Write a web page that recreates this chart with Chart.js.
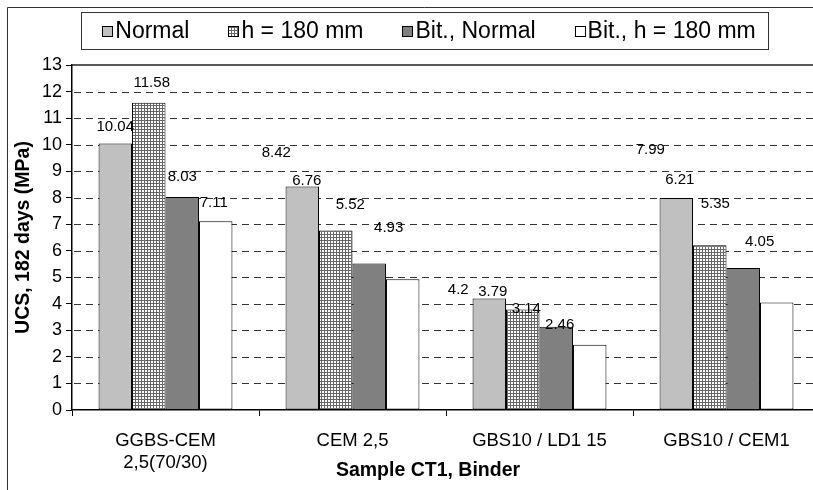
<!DOCTYPE html>
<html>
<head>
<meta charset="utf-8">
<script src="https://cdn.jsdelivr.net/npm/chart.js@4/dist/chart.umd.min.js"></script>
<style>
  html, body { margin: 0; padding: 0; background: #fff; overflow: hidden; }
  #wrap { width: 813px; height: 490px; overflow: hidden; position: relative; }
  canvas { display: block; }
</style>
</head>
<body>
<div id="wrap"><canvas id="c" width="840" height="490"></canvas></div>
<script>
// UCS after 182 days for sample CT1, by binder
const categories = [['GGBS-CEM', '2,5(70/30)'], 'CEM 2,5', 'GBS10 / LD1 15', 'GBS10 / CEM1'];
const seriesNames = ['Normal', 'h = 180 mm', 'Bit., Normal', 'Bit., h = 180 mm'];
const normal    = [10.04, 8.42, 4.2, 7.99];
const h180      = [11.58, 6.76, 3.79, 6.21];
const bitNormal = [8.03, 5.52, 3.14, 5.35];
const bitH180   = [7.11, 4.93, 2.46, 4.05];
const yTickMin = 0, yTickMax = 13, yTickStep = 1;
const xTitle = 'Sample CT1, Binder';
const yTitle = 'UCS, 182 days (MPa)';

// nudges (px) for the value labels, so they clear the neighbouring bars
const labelNudge = [
  [[0, -17], [3, -20], [0, -20], [-2, -18]],
  [[-26, -34], [-29, -50], [-19, -59], [-14, -51]],
  [[-31, -9], [-30, -18], [-30, -18], [-30, -20]],
  [[-26, -48], [-30, -65], [-28, -64], [-17, -61]]
];

const FONT = '"Liberation Sans", Arial, sans-serif';

function gridPattern() {
  const p = document.createElement('canvas');
  p.width = 3; p.height = 3;
  const g = p.getContext('2d');
  g.fillStyle = '#ffffff';
  g.fillRect(0, 0, 3, 3);
  g.fillStyle = '#666666';
  g.fillRect(0, 0, 3, 1);
  g.fillRect(0, 0, 1, 3);
  return g.createPattern(p, 'repeat');
}
const hatch = gridPattern();
const fills = ['#c0c0c0', hatch, '#808080', '#ffffff'];

const framePlugin = {
  id: 'frame',
  beforeDraw(chart) {
    const ctx = chart.ctx;
    ctx.save();
    ctx.fillStyle = '#fff';
    ctx.fillRect(0, 0, chart.width, chart.height);
    ctx.strokeStyle = '#333';
    ctx.lineWidth = 1;
    ctx.beginPath();
    ctx.moveTo(7.5, chart.height + 2);
    ctx.lineTo(7.5, 7.5);
    ctx.lineTo(chart.width + 2, 7.5);
    ctx.stroke();
    ctx.restore();
  },
  beforeDatasetsDraw(chart) {
    // dashed horizontal grid lines
    const ctx = chart.ctx;
    const a = chart.chartArea;
    const y = chart.scales.y;
    ctx.save();
    ctx.strokeStyle = '#333';
    ctx.lineWidth = 1;
    ctx.setLineDash([7, 5]);
    y.ticks.forEach(t => {
      if (t.value === yTickMin || t.value === yTickMax) return;
      const py = Math.round(y.getPixelForValue(t.value)) + 0.5;
      ctx.beginPath();
      ctx.moveTo(a.left + 2, py);
      ctx.lineTo(a.right, py);
      ctx.stroke();
    });
    ctx.restore();
  },
  afterDraw(chart) {
    const ctx = chart.ctx;
    const a = chart.chartArea;
    ctx.save();
    // plot area top edge
    ctx.strokeStyle = '#222';
    ctx.lineWidth = 1.5;
    ctx.beginPath();
    ctx.moveTo(a.left, a.top);
    ctx.lineTo(a.right, a.top);
    ctx.stroke();
    // x axis title
    ctx.fillStyle = '#000';
    ctx.font = 'bold 19.5px ' + FONT;
    ctx.textAlign = 'center';
    ctx.textBaseline = 'middle';
    ctx.fillText(xTitle, 428, 471);
    ctx.restore();
  }
};

const legendPlugin = {
  id: 'boxLegend',
  afterDraw(chart) {
    const ctx = chart.ctx;
    const box = { l: 81.5, t: 12.5, r: 768.5, b: 49.5 };
    ctx.save();
    ctx.fillStyle = '#fff';
    ctx.strokeStyle = '#333';
    ctx.lineWidth = 1;
    ctx.fillRect(box.l, box.t, box.r - box.l, box.b - box.t);
    ctx.strokeRect(box.l, box.t, box.r - box.l, box.b - box.t);
    ctx.font = '23px ' + FONT;
    ctx.textBaseline = 'middle';
    ctx.textAlign = 'left';
    const sw = 10, gapText = 3, gapItem = 39;
    const ds = chart.data.datasets;
    const widths = ds.map(d => ctx.measureText(d.label).width);
    const total = widths.reduce((s, w) => s + sw + gapText + w, 0) + gapItem * (ds.length - 1);
    let x = (box.l + box.r) / 2 - total / 2 + 4;
    const cy = (box.t + box.b) / 2;
    ds.forEach((d, i) => {
      ctx.fillStyle = d.backgroundColor;
      ctx.fillRect(x, cy - sw / 2, sw, sw);
      ctx.strokeStyle = '#000';
      ctx.strokeRect(Math.round(x) + 0.5, Math.round(cy - sw / 2) + 0.5, sw, sw);
      ctx.fillStyle = '#000';
      ctx.fillText(d.label, x + sw + gapText, cy + 1);
      x += sw + gapText + widths[i] + gapItem;
    });
    ctx.restore();
  }
};

const valueLabels = {
  id: 'valueLabels',
  afterDatasetsDraw(chart) {
    const ctx = chart.ctx;
    ctx.save();
    ctx.font = '15px ' + FONT;
    ctx.fillStyle = '#000';
    ctx.textAlign = 'center';
    ctx.textBaseline = 'middle';
    chart.data.datasets.forEach((d, si) => {
      chart.getDatasetMeta(si).data.forEach((bar, ci) => {
        const n = labelNudge[ci][si];
        ctx.fillText(String(d.data[ci]), bar.x + n[0], bar.y + n[1]);
      });
    });
    ctx.restore();
  }
};

const seriesData = [normal, h180, bitNormal, bitH180];

new Chart(document.getElementById('c'), {
  type: 'bar',
  data: {
    labels: categories,
    datasets: seriesNames.map((name, i) => ({
      label: name,
      data: seriesData[i],
      backgroundColor: fills[i],
      borderColor: '#000',
      borderWidth: 1,
      borderSkipped: false,
      categoryPercentage: 0.716,
      barPercentage: 1.0
    }))
  },
  options: {
    responsive: false,
    devicePixelRatio: 1,
    animation: false,
    layout: { padding: { left: 8, top: 65, right: 20, bottom: 0 } },
    plugins: { legend: { display: false }, tooltip: { enabled: false } },
    scales: {
      x: {
        ticks: { color: '#000', font: { family: FONT, size: 18.5 }, padding: 14, maxRotation: 0, autoSkip: false },
        grid: { offset: true, drawOnChartArea: false, tickLength: 6, color: '#000', tickWidth: 1 },
        border: { color: '#000', width: 1.5 },
        afterFit(s) { s.height = 80; }
      },
      y: {
        min: yTickMin, max: yTickMax,
        ticks: { stepSize: yTickStep, color: '#000', font: { family: FONT, size: 18 }, padding: 4 },
        grid: { drawOnChartArea: false, tickColor: '#000', tickLength: 6, tickWidth: 1 },
        border: { color: '#000', width: 1.5 },
        title: { display: true, text: yTitle, color: '#000', font: { family: FONT, size: 19.5, weight: 'bold' }, padding: { top: 4, bottom: 0 } },
        afterFit(s) { s.width = 64; }
      }
    }
  },
  plugins: [framePlugin, legendPlugin, valueLabels]
});
</script>
</body>
</html>
